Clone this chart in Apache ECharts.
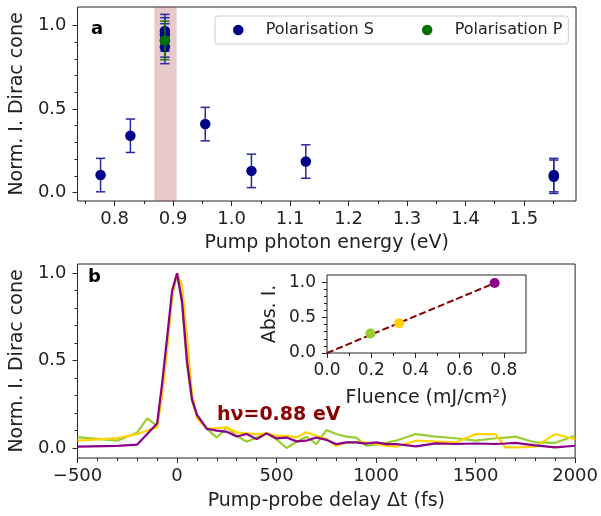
<!DOCTYPE html>
<html><head><meta charset="utf-8">
<script src="https://cdn.jsdelivr.net/npm/echarts@6/dist/echarts.min.js"></script>
<style>html,body{margin:0;padding:0;background:#fff}#c{width:601px;height:516px}</style>
</head><body><div id="c"></div>
<script>
// ---------- Panel a : intensity vs pump photon energy ----------
const energyS    = [0.776, 0.827, 0.886, 0.886, 0.886, 0.886, 0.955, 1.034, 1.127, 1.551, 1.551];
const intensityS = [0.105, 0.340, 0.966, 0.946, 0.910, 0.871, 0.410, 0.130, 0.186, 0.105, 0.095];
const errS       = [0.10, 0.10, 0.10, 0.10, 0.10, 0.10, 0.10, 0.10, 0.10, 0.10, 0.10];
const energyP    = [0.886];
const intensityP = [0.910];
const errP       = [0.115];
const bandRange  = [0.868, 0.906];
const topXTicks  = [0.8, 0.9, 1.0, 1.1, 1.2, 1.3, 1.4, 1.5];
const topXMinor  = [0.75, 0.85, 0.95, 1.05, 1.15, 1.25, 1.35, 1.45, 1.55];
const yTicks     = [0.0, 0.5, 1.0];
const yMinor     = [0.1, 0.2, 0.3, 0.4, 0.6, 0.7, 0.8, 0.9];

// ---------- Panel b : normalised intensity vs delay ----------
const delay = [-500,-300,-200,-150,-100,-75,-50,-25,0,25,50,75,100,150,200,250,300,350,400,450,500,550,600,650,700,750,800,850,900,950,1000,1050,1100,1200,1300,1400,1500,1600,1650,1700,1800,1900,2000];
const curveGreen = [0.062,0.042,0.089,0.170,0.127,0.32,0.58,0.86,1.0,0.83,0.47,0.27,0.19,0.11,0.060,0.118,0.070,0.036,0.060,0.084,0.050,0.000,0.035,0.065,0.023,0.103,0.080,0.065,0.060,0.013,0.020,0.030,0.042,0.080,0.065,0.056,0.042,0.056,0.060,0.065,0.032,0.030,0.070];
const curveGold  = [0.042,0.057,0.080,0.100,0.118,0.30,0.57,0.88,1.0,0.93,0.63,0.31,0.17,0.11,0.114,0.118,0.090,0.084,0.080,0.084,0.070,0.070,0.061,0.090,0.070,0.051,0.013,0.032,0.032,0.032,0.023,0.013,0.008,0.042,0.037,0.032,0.080,0.080,0.004,0.004,0.008,0.080,0.050];
const curvePurple= [0.008,0.012,0.020,0.080,0.140,0.37,0.63,0.90,1.0,0.84,0.50,0.28,0.19,0.11,0.100,0.093,0.066,0.080,0.051,0.084,0.055,0.060,0.038,0.042,0.060,0.047,0.022,0.032,0.032,0.025,0.032,0.022,0.023,0.010,0.027,0.023,0.026,0.023,0.026,0.030,0.015,0.004,0.013];
const botXTicks = [-500, 0, 500, 1000, 1500, 2000];
const botXMinor = [-400,-300,-200,-100,100,200,300,400,600,700,800,900,1100,1200,1300,1400,1600,1700,1800,1900];

// ---------- Inset : absolute intensity vs fluence ----------
const fluence  = [0.196, 0.326, 0.758];
const absI     = [0.275, 0.419, 0.986];
const fitFluence = [0, 0.758];
const fitAbsI    = [0, 0.986];
const insetXTicks = [0.0, 0.2, 0.4, 0.6, 0.8];
const insetXMinor = [0.1, 0.3, 0.5, 0.7];

const FONT = 'DejaVu Sans';
const INK = '#222';
const pointColors = ['#9acd32', '#ffd200', '#8b008b'];

const chart = echarts.init(document.getElementById('c'), null, {renderer: 'canvas'});

function fmt1(v){ return Number(v).toFixed(1); }
function fmtInt(v){ return v < 0 ? '\u2212' + Math.abs(v) : String(v); }

function majorAxis(o){
  return Object.assign({
    type: 'value', axisLine: {show: false, onZero: false}, splitLine: {show: false},
    axisTick: {show: true, length: 5, lineStyle: {color: INK, width: 1}, customValues: o.ticks},
    axisLabel: {show: true, customValues: o.ticks, formatter: o.fmt || fmt1, margin: o.margin || 9,
      fontSize: o.fs || 18, color: INK, fontFamily: FONT},
    nameLocation: 'middle', nameTextStyle: {fontSize: 19, color: INK, fontFamily: FONT}
  }, o.extra);
}
function minorAxis(o){
  return Object.assign({
    type: 'value', axisLine: {show: false, onZero: false}, splitLine: {show: false}, axisLabel: {show: false},
    axisTick: {show: true, length: 3, lineStyle: {color: INK, width: 1}, customValues: o.ticks}
  }, o.extra);
}

function errRender(color){
  return function(params, api){
    const x = api.value(0), y = api.value(1), e = api.value(2);
    const hi = api.coord([x, y + e]), lo = api.coord([x, y - e]);
    const w = 4.7, st = {stroke: color, lineWidth: 1.5};
    return {type: 'group', children: [
      {type: 'line', shape: {x1: hi[0], y1: hi[1], x2: lo[0], y2: lo[1]}, style: st},
      {type: 'line', shape: {x1: hi[0]-w, y1: hi[1], x2: hi[0]+w, y2: hi[1]}, style: st},
      {type: 'line', shape: {x1: lo[0]-w, y1: lo[1], x2: lo[0]+w, y2: lo[1]}, style: st}
    ]};
  };
}

const topX = {min: 0.7366, max: 1.589};
const topY = {min: -0.05, max: 1.11};
const botY = {min: -0.057, max: 1.053};

const option = {
  animation: false,
  backgroundColor: '#fff',
  grid: [
    {left: 77, right: 25, top: 7, height: 194, show: true, borderColor: INK, borderWidth: 1, backgroundColor: 'transparent'},
    {left: 77, right: 25, top: 264, height: 194, show: true, borderColor: INK, borderWidth: 1, backgroundColor: 'transparent'},
    {left: 327, width: 199, top: 275, height: 78, show: true, borderColor: INK, borderWidth: 1, backgroundColor: '#fff'}
  ],
  xAxis: [
    majorAxis({ticks: topXTicks, extra: {gridIndex: 0, min: topX.min, max: topX.max, position: 'bottom',
      name: 'Pump photon energy (eV)', nameGap: 33}}),
    minorAxis({ticks: topXMinor, extra: {gridIndex: 0, min: topX.min, max: topX.max, position: 'bottom'}}),
    majorAxis({ticks: botXTicks, fmt: fmtInt, extra: {gridIndex: 1, min: -500, max: 2000, position: 'bottom',
      name: 'Pump-probe delay \u0394t (fs)', nameGap: 34}}),
    minorAxis({ticks: botXMinor, extra: {gridIndex: 1, min: -500, max: 2000, position: 'bottom'}}),
    majorAxis({ticks: insetXTicks, fs: 17, extra: {gridIndex: 2, min: 0, max: 0.9, position: 'bottom',
      name: 'Fluence (mJ/cm\u00B2)', nameGap: 36}}),
    minorAxis({ticks: insetXMinor, extra: {gridIndex: 2, min: 0, max: 0.9, position: 'bottom'}})
  ],
  yAxis: [
    majorAxis({ticks: yTicks, margin: 11, extra: {gridIndex: 0, min: topY.min, max: topY.max, position: 'left',
      name: 'Norm. I. Dirac cone', nameGap: 47, nameRotate: 90}}),
    minorAxis({ticks: yMinor, extra: {gridIndex: 0, min: topY.min, max: topY.max, position: 'left'}}),
    majorAxis({ticks: yTicks, margin: 11, extra: {gridIndex: 1, min: botY.min, max: botY.max, position: 'left',
      name: 'Norm. I. Dirac cone', nameGap: 47, nameRotate: 90}}),
    minorAxis({ticks: yMinor, extra: {gridIndex: 1, min: botY.min, max: botY.max, position: 'left'}}),
    majorAxis({ticks: yTicks, fs: 17, margin: 11, extra: {gridIndex: 2, min: 0, max: 1.1, position: 'left',
      name: 'Abs. I.', nameGap: 47, nameRotate: 90}}),
    minorAxis({ticks: yMinor, extra: {gridIndex: 2, min: 0, max: 1.1, position: 'left'}})
  ],
  legend: {
    left: 215, top: 16, orient: 'horizontal',
    padding: [6, 6, 6, 18], itemWidth: 45, itemHeight: 10.5, itemGap: 48,
    borderColor: '#cccccc', borderWidth: 1, borderRadius: 3, backgroundColor: 'rgba(255,255,255,0.8)',
    icon: 'circle',
    textStyle: {fontSize: 16, color: INK, fontFamily: FONT},
    data: ['Polarisation S', 'Polarisation P']
  },
  series: [
    { // shaded photon-energy band
      type: 'custom', name: 'band', xAxisIndex: 0, yAxisIndex: 0, z: 1, silent: true,
      data: [[bandRange[0], bandRange[1]]],
      encode: {x: [0, 1]},
      renderItem: function(params, api){
        const a = api.coord([api.value(0), topY.max]);
        const b = api.coord([api.value(1), topY.min]);
        return {type: 'rect', shape: {x: a[0], y: a[1], width: b[0]-a[0], height: b[1]-a[1]},
          style: {fill: 'rgba(165,42,42,0.25)'}};
      }
    },
    {
      type: 'custom', name: 'errS', xAxisIndex: 0, yAxisIndex: 0, z: 2,
      data: energyS.map((x, i) => [x, intensityS[i], errS[i]]),
      encode: {x: 0, y: 1}, renderItem: errRender('#2a2aa0')
    },
    {
      type: 'scatter', name: 'Polarisation S', xAxisIndex: 0, yAxisIndex: 0, z: 3,
      symbolSize: 10.5, itemStyle: {color: '#00008b', opacity: 1},
      data: energyS.map((x, i) => [x, intensityS[i]])
    },
    {
      type: 'custom', name: 'errP', xAxisIndex: 0, yAxisIndex: 0, z: 4,
      data: energyP.map((x, i) => [x, intensityP[i], errP[i]]),
      encode: {x: 0, y: 1}, renderItem: errRender('#1a7a1a')
    },
    {
      type: 'scatter', name: 'Polarisation P', xAxisIndex: 0, yAxisIndex: 0, z: 5,
      symbolSize: 10.5, itemStyle: {color: '#007000', opacity: 1},
      data: energyP.map((x, i) => [x, intensityP[i]])
    },
    {
      type: 'line', name: 'green', xAxisIndex: 2, yAxisIndex: 2, z: 2, showSymbol: false, symbol: 'none',
      lineStyle: {color: '#9acd32', width: 2.2}, data: delay.map((t, i) => [t, curveGreen[i]])
    },
    {
      type: 'line', name: 'gold', xAxisIndex: 2, yAxisIndex: 2, z: 3, showSymbol: false, symbol: 'none',
      lineStyle: {color: '#ffd200', width: 2.2}, data: delay.map((t, i) => [t, curveGold[i]])
    },
    {
      type: 'line', name: 'purple', xAxisIndex: 2, yAxisIndex: 2, z: 4, showSymbol: false, symbol: 'none',
      lineStyle: {color: '#8b008b', width: 2.2}, data: delay.map((t, i) => [t, curvePurple[i]])
    },
    {
      type: 'line', name: 'fit', xAxisIndex: 4, yAxisIndex: 4, z: 5, showSymbol: false, symbol: 'none',
      lineStyle: {color: '#8b0000', width: 2, type: [7, 3]},
      data: fitFluence.map((x, i) => [x, fitAbsI[i]])
    },
    {
      type: 'scatter', name: 'fluence', xAxisIndex: 4, yAxisIndex: 4, z: 6, symbolSize: 10,
      data: fluence.map((x, i) => ({value: [x, absI[i]], itemStyle: {color: pointColors[i], opacity: 1}}))
    }
  ],
  graphic: [
    {type: 'text', left: 91, top: 20, style: {text: 'a', font: 'bold 18px "DejaVu Sans"', fill: '#000'}},
    {type: 'text', left: 88, top: 268, style: {text: 'b', font: 'bold 18px "DejaVu Sans"', fill: '#000'}},
    {type: 'text', left: 217, top: 406, style: {text: 'h\u03BD=0.88 eV', font: 'bold 19px "DejaVu Sans"', fill: '#8b0000'}}
  ]
};
chart.setOption(option);
</script>
</body></html>
